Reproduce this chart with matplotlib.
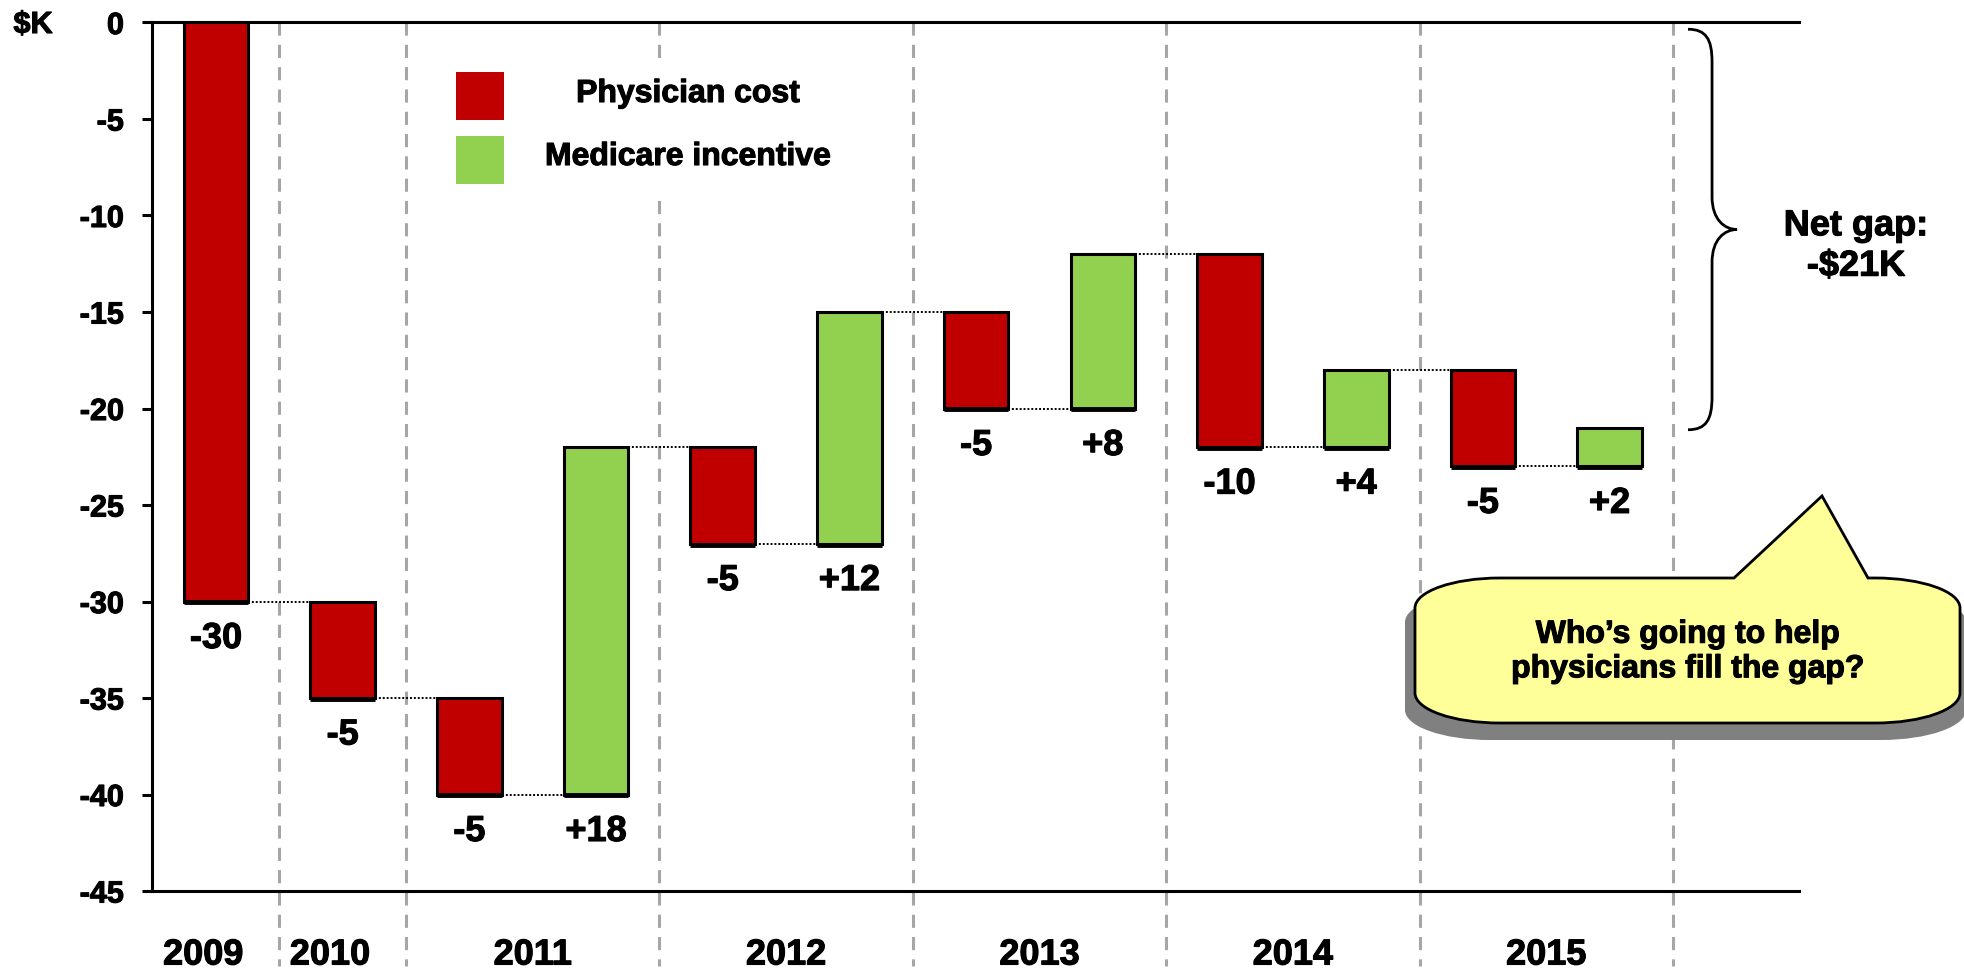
import numpy as np
import matplotlib.pyplot as plt
import matplotlib.patheffects as pe
from matplotlib.patches import Rectangle, PathPatch
from matplotlib.path import Path
from matplotlib.transforms import Affine2D, blended_transform_factory

plt.rcParams['font.family'] = ['Liberation Sans', 'DejaVu Sans']
plt.rcParams['font.weight'] = 'bold'
plt.rcParams['text.parse_math'] = False

# data
years = ['2009', '2010', '2011', '2012', '2013', '2014', '2015']
bar_year = [0, 1, 2, 2, 3, 3, 4, 4, 5, 5, 6, 6]
changes = [-30, -5, -5, 18, -5, 12, -5, 8, -10, 4, -5, 2]
kinds = ['cost', 'cost', 'cost', 'incentive', 'cost', 'incentive',
         'cost', 'incentive', 'cost', 'incentive', 'cost', 'incentive']
y_ticks = [0, -5, -10, -15, -20, -25, -30, -35, -40, -45]
legend_labels = {'cost': 'Physician cost', 'incentive': 'Medicare incentive'}
callout_text = 'Who\u2019s going to help\nphysicians fill the gap?'

colors = {'cost': '#C00000', 'incentive': '#92D050'}
heavy = [pe.withStroke(linewidth=0.8, foreground='black')]

W, H = 1965, 972
fig = plt.figure(figsize=(W / 100, H / 100), dpi=100)
ax = fig.add_axes([152 / W, 81 / H, 1647 / W, 868.5 / H])
# pixel coords (origin top-left) for the decorations
px = Affine2D().scale(1 / W, -1 / H).translate(0, 1) + fig.transFigure

x = np.arange(len(changes))
ends = np.cumsum(changes)
starts = ends - np.array(changes)
bottoms = np.minimum(starts, ends)
bw = 0.51

# 瀑布柱
ax.bar(x, changes, bottom=starts, width=bw,
       color=[colors[k] for k in kinds], edgecolor='black', linewidth=2.2, zorder=3)
ax.hlines(bottoms - 0.05, x - bw / 2, x + bw / 2, color='black', lw=3.5, zorder=4)

# 连接虚线
for i in range(len(x) - 1):
    ax.plot([x[i] + bw / 2, x[i + 1] - bw / 2], [ends[i], ends[i]],
            color='black', lw=1.4, dashes=(1, 1), zorder=2)

# 数值标签
for i, v in enumerate(changes):
    ax.annotate(f'{v:+d}', (x[i], bottoms[i]), xytext=(0, -37), textcoords='offset pixels',
                ha='center', va='center', fontsize=26, fontweight='bold', path_effects=heavy)

# 年份分隔线和年份
trans = blended_transform_factory(ax.transData, ax.transAxes)
for g, yr in enumerate(years):
    idx = [i for i, b in enumerate(bar_year) if b == g]
    sep = max(idx) + 0.5
    ax.plot([sep, sep], [1, -0.086], transform=trans, clip_on=False,
            color='#A6A6A6', lw=2.2, dashes=(4.3, 3.0), zorder=1)
    ax.text(np.mean(idx) - (0.1 if len(idx) == 1 else 0), -0.0737, yr, transform=trans,
            ha='center', va='center', fontsize=26, fontweight='bold', path_effects=heavy)

ax.set_xlim(-0.505, 12.495)
ax.set_ylim(-45, 0)
ax.set_yticks(y_ticks)
ax.set_yticklabels([str(t) for t in y_ticks])
ax.set_xticks([])
ax.tick_params(axis='y', length=7.2, width=2.2, pad=13, labelsize=22)
for lab in ax.get_yticklabels():
    lab.set_path_effects(heavy)
for s in ['left', 'top', 'bottom']:
    ax.spines[s].set_linewidth(2.2)
ax.spines['right'].set_visible(False)

fig.text(33, 25, '$K', transform=px, ha='center', va='center', fontsize=22,
         fontweight='bold', path_effects=heavy)

# legend (rectangles anchored at their top-left corner in pixel coords)
fig.add_artist(Rectangle((445, 62), 400, 133, transform=px, facecolor='white',
                         edgecolor='none', zorder=2))
for j, k in enumerate(['cost', 'incentive']):
    fig.add_artist(Rectangle((456, 72 + 64 * j), 48, 48, transform=px,
                             facecolor=colors[k], edgecolor='none', zorder=3))
    fig.text(688, 94 + 63 * j, legend_labels[k], transform=px, ha='center', va='center',
             fontsize=23, fontweight='bold', zorder=3, path_effects=heavy)

# brace for net gap
net = ends[-1]
bt = blended_transform_factory(ax.transAxes, ax.transData)
xa, xm, xt = 0.9326, 0.9472, 0.9624
yt, yb = -0.35, net - 0.1
ym = (yt + yb) / 2
c = 1.7
verts = [(xa, yt),
         (xm - (xm - xa) * 0.25, yt), (xm, yt - c * 0.3), (xm, yt - c),
         (xm, ym + c),
         (xm, ym + c * 0.3), (xt - (xt - xm) * 0.5, ym), (xt, ym),
         (xt - (xt - xm) * 0.5, ym), (xm, ym - c * 0.3), (xm, ym - c),
         (xm, yb + c),
         (xm, yb + c * 0.3), (xm - (xm - xa) * 0.25, yb), (xa, yb)]
codes = [Path.MOVETO] + [Path.CURVE4] * 3 + [Path.LINETO] + [Path.CURVE4] * 6 + \
        [Path.LINETO] + [Path.CURVE4] * 3
ax.add_patch(PathPatch(Path(verts, codes), transform=bt, facecolor='none',
                       edgecolor='black', lw=2.0, clip_on=False))
fig.text(1856, 246, f'Net gap:\n-${abs(net)}K', transform=px, ha='center', va='center',
         fontsize=26, fontweight='bold', linespacing=1.2, path_effects=heavy)


# callout
def round_box(x0, y0, x1, y1, rx, ry, pointer=None):
    k = 0.5523
    v = [(x0 + rx, y0)]
    cd = [Path.MOVETO]
    if pointer:
        for p in pointer:
            v.append(p)
            cd.append(Path.LINETO)
    v += [(x1 - rx, y0),
          (x1 - rx + k * rx, y0), (x1, y0 + ry - k * ry), (x1, y0 + ry),
          (x1, y1 - ry),
          (x1, y1 - ry + k * ry), (x1 - rx + k * rx, y1), (x1 - rx, y1),
          (x0 + rx, y1),
          (x0 + rx - k * rx, y1), (x0, y1 - ry + k * ry), (x0, y1 - ry),
          (x0, y0 + ry),
          (x0, y0 + ry - k * ry), (x0 + rx - k * rx, y0), (x0 + rx, y0)]
    cd += [Path.LINETO] + [Path.CURVE4] * 3 + [Path.LINETO] + [Path.CURVE4] * 3 + \
          [Path.LINETO] + [Path.CURVE4] * 3 + [Path.LINETO] + [Path.CURVE4] * 3
    return Path(v, cd)


fig.add_artist(PathPatch(round_box(1405, 592, 1966, 740, 85, 30), transform=px,
                         facecolor='#808080', edgecolor='none', zorder=4))
fig.add_artist(PathPatch(round_box(1415, 578, 1960, 723, 85, 30,
                                   pointer=[(1734, 578), (1822, 496), (1868, 578)]),
                         transform=px, facecolor='#FFFF99', edgecolor='black', lw=2.0, zorder=5))
fig.text(1688, 652, callout_text, transform=px, ha='center', va='center',
         fontsize=23, fontweight='bold', linespacing=1.2, zorder=6, path_effects=heavy)

fig.savefig('out.png', dpi=100)
